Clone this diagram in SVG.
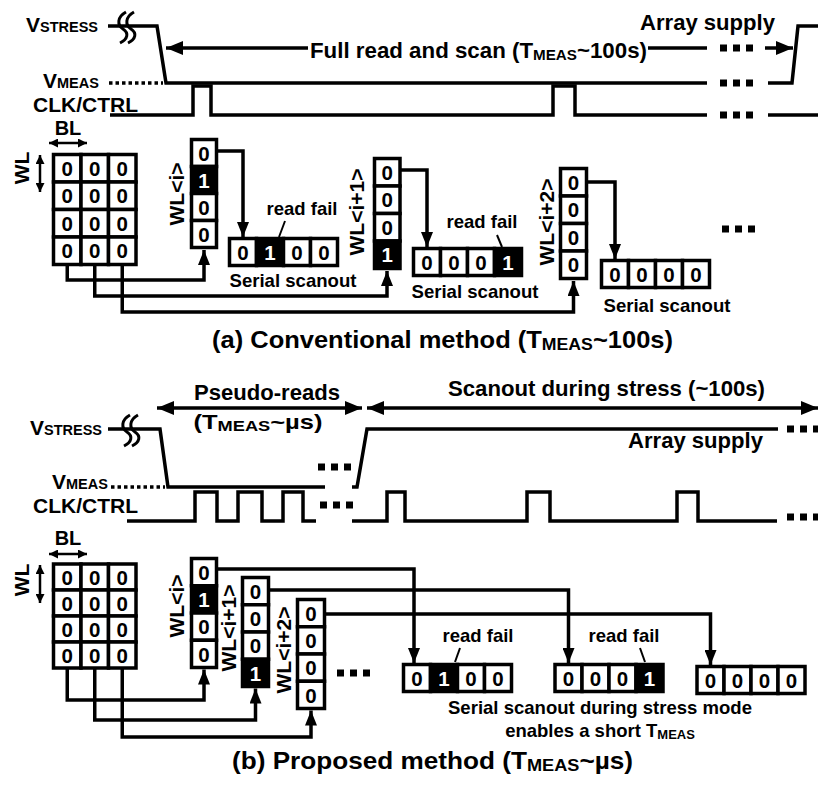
<svg xmlns="http://www.w3.org/2000/svg" width="818" height="785" viewBox="0 0 818 785">
<defs>
<style>
text{font-family:"Liberation Sans",Arial,Helvetica,sans-serif;font-weight:bold;fill:#000}
.ln{fill:none;stroke:#000;stroke-width:3.5;stroke-linejoin:miter}
.cn{fill:none;stroke:#000;stroke-width:3.5;stroke-linejoin:miter}
.dots{fill:none;stroke:#000;stroke-width:7;stroke-dasharray:7 6}
.dot{fill:none;stroke:#000;stroke-width:3.5;stroke-dasharray:3.5 3}
.cell{fill:#fff;stroke:#000;stroke-width:3.5}
.blk{fill:#000;stroke:#000;stroke-width:3.5}
.d{font-size:20.5px;text-anchor:middle}
.dw{font-size:20.5px;text-anchor:middle;fill:#fff}
.m{text-anchor:middle}
.t22{font-size:22px}
.t18{font-size:18.5px}
.wl{font-size:21px;text-anchor:middle}
.brk{fill:none;stroke:#000;stroke-width:3}
</style>
<marker id="ah" markerUnits="userSpaceOnUse" markerWidth="17" markerHeight="14" refX="17" refY="7" orient="auto-start-reverse" viewBox="0 0 17 14"><path d="M0,0 L17,7 L0,14z"/></marker>
<marker id="ac" markerUnits="userSpaceOnUse" markerWidth="15" markerHeight="12" refX="15" refY="6" orient="auto" viewBox="0 0 15 12"><path d="M0,0 L15,6 L0,12z"/></marker>
<marker id="as" markerUnits="userSpaceOnUse" markerWidth="9" markerHeight="9" refX="9" refY="4.5" orient="auto-start-reverse" viewBox="0 0 9 9"><path d="M0,0 L9,4.5 L0,9z"/></marker>
<path id="brkp" d="M126,12 C117,17 117,25 123,29 C129,33 128,39 120,43"/>
</defs>

<!-- ===== (a) Conventional ===== -->
<g id="a-waveforms">
  <text x="26" y="32"><tspan font-size="21">V</tspan><tspan font-size="14.5">STRESS</tspan></text>
  <text x="43" y="88"><tspan font-size="21">V</tspan><tspan font-size="14.5">MEAS</tspan></text>
  <text x="33" y="112" font-size="21">CLK/CTRL</text>
  <path class="ln" d="M108,26 H157 L166,83 H707"/>
  <path class="ln" d="M768,83 H792 L798,26 H818"/>
  <path class="dot" d="M109,83 H163"/>
  <g class="brk"><use href="#brkp"/><use href="#brkp" x="8"/></g>
  <path class="ln" d="M110,115 H193 V86 H211 V115 H553 V86 H575 V115 H707"/>
  <path class="ln" d="M768,115 H818"/>
  <path class="dots" d="M720,48 H753 M720,83 H753 M720,115 H753"/>
  <text x="640" y="30" class="t22" textLength="135" lengthAdjust="spacingAndGlyphs">Array supply</text>
</g>
<g id="a-fullread">
  <path class="ln" d="M308,48 H166" marker-end="url(#ah)"/>
  <path class="ln" d="M648,48 H707"/>
  <path class="ln" d="M765,48 H793" marker-end="url(#ah)"/>
  <text x="310" y="58" class="t22" textLength="337" lengthAdjust="spacingAndGlyphs">Full read and scan (T<tspan font-size="15" dy="2">MEAS</tspan><tspan dy="-2">~100s)</tspan></text>
</g>
<g id="a-array">
  <text x="68" y="135" font-size="20" class="m">BL</text>
  <path class="ln" d="M49,143 H87" style="stroke-width:2.5" marker-start="url(#as)" marker-end="url(#as)"/>
  <path class="ln" d="M40,155 V192" style="stroke-width:2.5" marker-start="url(#as)" marker-end="url(#as)"/>
  <text transform="translate(22,168) rotate(-90)" y="7" class="wl">WL</text>
  <g>
    <rect class="cell" x="53.5" y="154.5" width="27.5" height="27.5"/><rect class="cell" x="81" y="154.5" width="27.5" height="27.5"/><rect class="cell" x="108.5" y="154.5" width="27.5" height="27.5"/>
    <rect class="cell" x="53.5" y="182" width="27.5" height="27.5"/><rect class="cell" x="81" y="182" width="27.5" height="27.5"/><rect class="cell" x="108.5" y="182" width="27.5" height="27.5"/>
    <rect class="cell" x="53.5" y="209.5" width="27.5" height="27.5"/><rect class="cell" x="81" y="209.5" width="27.5" height="27.5"/><rect class="cell" x="108.5" y="209.5" width="27.5" height="27.5"/>
    <rect class="cell" x="53.5" y="237" width="27.5" height="27.5"/><rect class="cell" x="81" y="237" width="27.5" height="27.5"/><rect class="cell" x="108.5" y="237" width="27.5" height="27.5"/>
    <text class="d" x="67.25" y="175.5">0</text><text class="d" x="94.75" y="175.5">0</text><text class="d" x="122.25" y="175.5">0</text>
    <text class="d" x="67.25" y="203">0</text><text class="d" x="94.75" y="203">0</text><text class="d" x="122.25" y="203">0</text>
    <text class="d" x="67.25" y="230.5">0</text><text class="d" x="94.75" y="230.5">0</text><text class="d" x="122.25" y="230.5">0</text>
    <text class="d" x="67.25" y="258">0</text><text class="d" x="94.75" y="258">0</text><text class="d" x="122.25" y="258">0</text>
  </g>
</g>
<g id="a-wl-i">
  <rect class="cell" x="191.5" y="139.5" width="25" height="27"/>
  <rect class="blk" x="191.5" y="166.5" width="25" height="27"/>
  <rect class="cell" x="191.5" y="193.5" width="25" height="27"/>
  <rect class="cell" x="191.5" y="220.5" width="25" height="27"/>
  <text class="d" x="204" y="160.5">0</text><text class="dw" x="204" y="187.5">1</text><text class="d" x="204" y="214.5">0</text><text class="d" x="204" y="241.5">0</text>
  <text transform="translate(177,194) rotate(-90)" y="7" class="wl">WL&lt;i&gt;</text>
</g>
<g id="a-wl-i1">
  <rect class="cell" x="374.5" y="158.5" width="25.5" height="27.5"/>
  <rect class="cell" x="374.5" y="186" width="25.5" height="27.5"/>
  <rect class="cell" x="374.5" y="213.5" width="25.5" height="27.5"/>
  <rect class="blk" x="374.5" y="241" width="25.5" height="27.5"/>
  <text class="d" x="387.25" y="179.5">0</text><text class="d" x="387.25" y="207">0</text><text class="d" x="387.25" y="234.5">0</text><text class="dw" x="387.25" y="262">1</text>
  <text transform="translate(357,212) rotate(-90)" y="7" class="wl">WL&lt;i+1&gt;</text>
</g>
<g id="a-wl-i2">
  <rect class="cell" x="560.5" y="168.5" width="26" height="27.5"/>
  <rect class="cell" x="560.5" y="196" width="26" height="27.5"/>
  <rect class="cell" x="560.5" y="223.5" width="26" height="27.5"/>
  <rect class="cell" x="560.5" y="251" width="26" height="27.5"/>
  <text class="d" x="573.5" y="189.5">0</text><text class="d" x="573.5" y="217">0</text><text class="d" x="573.5" y="244.5">0</text><text class="d" x="573.5" y="272">0</text>
  <text transform="translate(547,222) rotate(-90)" y="7" class="wl">WL&lt;i+2&gt;</text>
</g>
<g id="a-scan1">
  <rect class="cell" x="229.5" y="238.5" width="27" height="27"/><rect class="blk" x="256.5" y="238.5" width="27" height="27"/><rect class="cell" x="283.5" y="238.5" width="27" height="27"/><rect class="cell" x="310.5" y="238.5" width="27" height="27"/>
  <text class="d" x="243" y="259.5">0</text><text class="dw" x="270" y="259.5">1</text><text class="d" x="297" y="259.5">0</text><text class="d" x="324" y="259.5">0</text>
  <text x="302" y="215" class="t18 m">read fail</text>
  <path class="cn" d="M285,221 L279,237" style="stroke-width:2"/>
  <text x="293" y="287" class="t18 m" textLength="127" lengthAdjust="spacingAndGlyphs">Serial scanout</text>
</g>
<g id="a-scan2">
  <rect class="cell" x="413.5" y="248.5" width="27" height="27"/><rect class="cell" x="440.5" y="248.5" width="27" height="27"/><rect class="cell" x="467.5" y="248.5" width="27" height="27"/><rect class="blk" x="494.5" y="248.5" width="27" height="27"/>
  <text class="d" x="427" y="269.5">0</text><text class="d" x="454" y="269.5">0</text><text class="d" x="481" y="269.5">0</text><text class="dw" x="508" y="269.5">1</text>
  <text x="482" y="228" class="t18 m">read fail</text>
  <path class="cn" d="M497,235 L502,247" style="stroke-width:2"/>
  <text x="475" y="298" class="t18 m" textLength="127" lengthAdjust="spacingAndGlyphs">Serial scanout</text>
</g>
<g id="a-scan3">
  <rect class="cell" x="601.5" y="260.5" width="27" height="27"/><rect class="cell" x="628.5" y="260.5" width="27" height="27"/><rect class="cell" x="655.5" y="260.5" width="27" height="27"/><rect class="cell" x="682.5" y="260.5" width="27" height="27"/>
  <text class="d" x="615" y="281.5">0</text><text class="d" x="642" y="281.5">0</text><text class="d" x="669" y="281.5">0</text><text class="d" x="696" y="281.5">0</text>
  <text x="667" y="312" class="t18 m" textLength="127" lengthAdjust="spacingAndGlyphs">Serial scanout</text>
  <path class="dots" d="M722,229 H755"/>
</g>
<g id="a-connectors">
  <path class="cn" d="M67.25,265 V280 H204 V250" marker-end="url(#ac)"/>
  <path class="cn" d="M94.75,265 V296 H387 V271" marker-end="url(#ac)"/>
  <path class="cn" d="M122.25,265 V312 H573.5 V281" marker-end="url(#ac)"/>
  <path class="cn" d="M218,151 H243 V237" marker-end="url(#ac)"/>
  <path class="cn" d="M401,170 H427 V247" marker-end="url(#ac)"/>
  <path class="cn" d="M588,182 H615 V259" marker-end="url(#ac)"/>
</g>
<text id="cap-a" x="212" y="348" font-size="24.5" textLength="461" lengthAdjust="spacingAndGlyphs">(a) Conventional method (T<tspan font-size="17" dy="2">MEAS</tspan><tspan dy="-2">~100s)</tspan></text>

<!-- ===== (b) Proposed ===== -->
<g id="b-arrows">
  <path class="ln" d="M157,408 H362" marker-start="url(#ah)" marker-end="url(#ah)"/>
  <text x="267" y="400" class="t22 m" textLength="146" lengthAdjust="spacingAndGlyphs">Pseudo-reads</text>
  <text x="258" y="429" class="m" font-size="21" textLength="129" lengthAdjust="spacingAndGlyphs">(T<tspan font-size="15" dy="2">MEAS</tspan><tspan dy="-2">~µs)</tspan></text>
  <path class="ln" d="M367,408 H818" marker-start="url(#ah)" marker-end="url(#ah)"/>
  <text x="448" y="396" class="t22" textLength="317" lengthAdjust="spacingAndGlyphs">Scanout during stress (~100s)</text>
</g>
<g id="b-waveforms">
  <text x="30" y="435"><tspan font-size="21">V</tspan><tspan font-size="14.5">STRESS</tspan></text>
  <text x="52" y="489"><tspan font-size="21">V</tspan><tspan font-size="14.5">MEAS</tspan></text>
  <text x="33" y="513" font-size="21">CLK/CTRL</text>
  <path class="ln" d="M108,429 H160 L168,487 H325"/>
  <path class="ln" d="M352,487 H357 L367,429 H778"/>
  <path class="dot" d="M111,487 H165"/>
  <g class="brk" transform="translate(4,403)"><use href="#brkp"/><use href="#brkp" x="8"/></g>
  <path class="ln" d="M127,521 H195 V492 H217 V521 H238 V492 H262 V521 H283 V492 H303 V521 H316"/>
  <path class="ln" d="M352,521 H387 V492 H405 V521 H527 V492 H550 V521 H677 V492 H698 V521 H777"/>
  <path class="dots" d="M318,467 H351 M787,429 H820 M320,505 H353 M787,517 H820"/>
  <text x="628" y="448" class="t22" textLength="135" lengthAdjust="spacingAndGlyphs">Array supply</text>
</g>
<g id="b-array">
  <text x="68" y="545" font-size="20" class="m">BL</text>
  <path class="ln" d="M49,554 H87" style="stroke-width:2.5" marker-start="url(#as)" marker-end="url(#as)"/>
  <path class="ln" d="M40,565 V603" style="stroke-width:2.5" marker-start="url(#as)" marker-end="url(#as)"/>
  <text transform="translate(22,580) rotate(-90)" y="7" class="wl">WL</text>
  <g>
    <rect class="cell" x="53.5" y="564" width="27.5" height="26"/><rect class="cell" x="81" y="564" width="27.5" height="26"/><rect class="cell" x="108.5" y="564" width="27.5" height="26"/>
    <rect class="cell" x="53.5" y="590" width="27.5" height="26"/><rect class="cell" x="81" y="590" width="27.5" height="26"/><rect class="cell" x="108.5" y="590" width="27.5" height="26"/>
    <rect class="cell" x="53.5" y="616" width="27.5" height="26"/><rect class="cell" x="81" y="616" width="27.5" height="26"/><rect class="cell" x="108.5" y="616" width="27.5" height="26"/>
    <rect class="cell" x="53.5" y="642" width="27.5" height="26"/><rect class="cell" x="81" y="642" width="27.5" height="26"/><rect class="cell" x="108.5" y="642" width="27.5" height="26"/>
    <text class="d" x="67.25" y="584.5">0</text><text class="d" x="94.75" y="584.5">0</text><text class="d" x="122.25" y="584.5">0</text>
    <text class="d" x="67.25" y="610.5">0</text><text class="d" x="94.75" y="610.5">0</text><text class="d" x="122.25" y="610.5">0</text>
    <text class="d" x="67.25" y="636.5">0</text><text class="d" x="94.75" y="636.5">0</text><text class="d" x="122.25" y="636.5">0</text>
    <text class="d" x="67.25" y="662.5">0</text><text class="d" x="94.75" y="662.5">0</text><text class="d" x="122.25" y="662.5">0</text>
  </g>
</g>
<g id="b-wl-i">
  <rect class="cell" x="191.5" y="558.5" width="25" height="27.25"/>
  <rect class="blk" x="191.5" y="585.75" width="25" height="27.25"/>
  <rect class="cell" x="191.5" y="613" width="25" height="27.25"/>
  <rect class="cell" x="191.5" y="640.25" width="25" height="27.25"/>
  <text class="d" x="204" y="579.5">0</text><text class="dw" x="204" y="607">1</text><text class="d" x="204" y="634">0</text><text class="d" x="204" y="661.5">0</text>
  <text transform="translate(177,606) rotate(-90)" y="7" class="wl">WL&lt;i&gt;</text>
</g>
<g id="b-wl-i1">
  <rect class="cell" x="242.5" y="577.5" width="26" height="27.25"/>
  <rect class="cell" x="242.5" y="604.75" width="26" height="27.25"/>
  <rect class="cell" x="242.5" y="632" width="26" height="27.25"/>
  <rect class="blk" x="242.5" y="659.25" width="26" height="27.25"/>
  <text class="d" x="255.5" y="598.5">0</text><text class="d" x="255.5" y="626">0</text><text class="d" x="255.5" y="653">0</text><text class="dw" x="255.5" y="680.5">1</text>
  <text transform="translate(229,628) rotate(-90)" y="7" class="wl">WL&lt;i+1&gt;</text>
</g>
<g id="b-wl-i2">
  <rect class="cell" x="297.5" y="599.5" width="27" height="27.25"/>
  <rect class="cell" x="297.5" y="626.75" width="27" height="27.25"/>
  <rect class="cell" x="297.5" y="654" width="27" height="27.25"/>
  <rect class="cell" x="297.5" y="681.25" width="27" height="27.25"/>
  <text class="d" x="311" y="620.5">0</text><text class="d" x="311" y="648">0</text><text class="d" x="311" y="675">0</text><text class="d" x="311" y="702.5">0</text>
  <text transform="translate(284,650) rotate(-90)" y="7" class="wl">WL&lt;i+2&gt;</text>
  <path class="dots" d="M337,673 H370"/>
</g>
<g id="b-scan1">
  <rect class="cell" x="403.5" y="664.5" width="27" height="27"/><rect class="blk" x="430.5" y="664.5" width="27" height="27"/><rect class="cell" x="457.5" y="664.5" width="27" height="27"/><rect class="cell" x="484.5" y="664.5" width="27" height="27"/>
  <text class="d" x="417" y="685.5">0</text><text class="dw" x="444" y="685.5">1</text><text class="d" x="471" y="685.5">0</text><text class="d" x="498" y="685.5">0</text>
  <text x="478" y="642" class="t18 m">read fail</text>
  <path class="cn" d="M460,648 L455,662" style="stroke-width:2"/>
</g>
<g id="b-scan2">
  <rect class="cell" x="555" y="664.5" width="27" height="27"/><rect class="cell" x="582" y="664.5" width="27" height="27"/><rect class="cell" x="609" y="664.5" width="27" height="27"/><rect class="blk" x="636" y="664.5" width="27" height="27"/>
  <text class="d" x="568.5" y="685.5">0</text><text class="d" x="595.5" y="685.5">0</text><text class="d" x="622.5" y="685.5">0</text><text class="dw" x="649.5" y="685.5">1</text>
  <text x="624" y="642" class="t18 m">read fail</text>
  <path class="cn" d="M640,648 L645,662" style="stroke-width:2"/>
</g>
<g id="b-scan3">
  <rect class="cell" x="697" y="666.5" width="27" height="27"/><rect class="cell" x="724" y="666.5" width="27" height="27"/><rect class="cell" x="751" y="666.5" width="27" height="27"/><rect class="cell" x="778" y="666.5" width="27" height="27"/>
  <text class="d" x="710.5" y="687.5">0</text><text class="d" x="737.5" y="687.5">0</text><text class="d" x="764.5" y="687.5">0</text><text class="d" x="791.5" y="687.5">0</text>
</g>
<g id="b-note">
  <text x="600" y="714" class="m" font-size="18.5" textLength="304" lengthAdjust="spacingAndGlyphs">Serial scanout during stress mode</text>
  <text x="600" y="737" class="m" font-size="18.5">enables a short T<tspan font-size="13" dy="2">MEAS</tspan></text>
</g>
<g id="b-connectors">
  <path class="cn" d="M67.25,667 V700 H204 V669.5" marker-end="url(#ac)"/>
  <path class="cn" d="M94.75,667 V720 H255.5 V688.5" marker-end="url(#ac)"/>
  <path class="cn" d="M122.25,667 V737 H311 V710.5" marker-end="url(#ac)"/>
  <path class="cn" d="M217,569 H414 V663" marker-end="url(#ac)"/>
  <path class="cn" d="M269,590 H568.5 V663" marker-end="url(#ac)"/>
  <path class="cn" d="M325,614 H710.5 V665" marker-end="url(#ac)"/>
</g>
<text id="cap-b" x="232" y="769" font-size="24.5" textLength="401" lengthAdjust="spacingAndGlyphs">(b) Proposed method (T<tspan font-size="17" dy="2">MEAS</tspan><tspan dy="-2">~µs)</tspan></text>
</svg>
